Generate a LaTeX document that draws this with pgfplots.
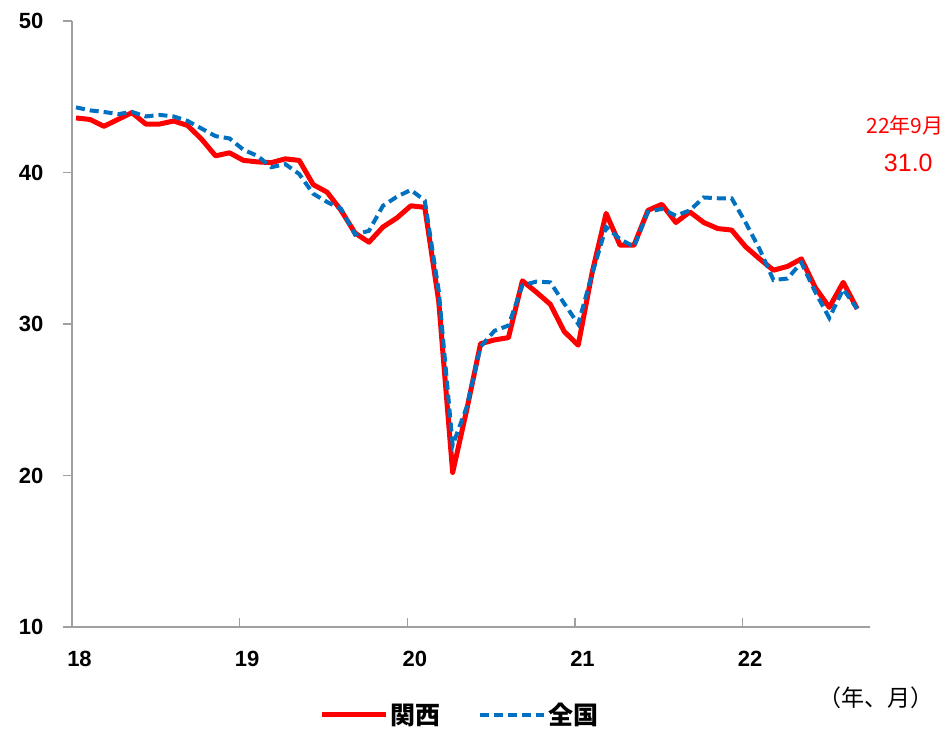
\documentclass[border=0pt]{standalone}
\usepackage{pgfplots}
\usepackage{pgfplotstable}
\pgfplotsset{compat=1.18}
\usepackage{fontspec}
\setmainfont{Liberation Sans}
\newfontfamily\cjk{Noto Sans CJK JP}

\definecolor{kansai}{RGB}{255,0,0}
\definecolor{zenkoku}{RGB}{0,112,192}
\definecolor{axgray}{RGB}{160,160,160}

% month index from Jan 2018 (0) to Sep 2022 (56)
\pgfplotstableread{
i  kansai zenkoku
0  43.6  44.3
1  43.5  44.1
2  43.05 44.0
3  43.5  43.85
4  43.95 44.0
5  43.2  43.7
6  43.2  43.8
7  43.4  43.7
8  43.1  43.4
9  42.2  42.9
10 41.1  42.4
11 41.3  42.25
12 40.8  41.5
13 40.7  41.1
14 40.65 40.35
15 40.9  40.55
16 40.8  39.9
17 39.2  38.6
18 38.7  38.05
19 37.5  37.6
20 36.0  35.9
21 35.4  36.15
22 36.4  37.8
23 37.0  38.4
24 37.8  38.85
25 37.7  38.15
26 31.5  32.2
27 20.2  22.0
28 24.3  24.5
29 28.7  28.5
30 28.95 29.55
31 29.1  29.9
32 32.85 32.55
33 32.1  32.8
34 31.3  32.75
35 29.5  31.35
36 28.6  30.0
37 33.4  33.3
38 37.3  36.4
39 35.2  35.6
40 35.2  35.1
41 37.5  37.4
42 37.9  37.6
43 36.7  37.15
44 37.4  37.5
45 36.7  38.35
46 36.3  38.3
47 36.2  38.3
48 35.1  36.7
49 34.3  34.95
50 33.55 32.9
51 33.8  33.0
52 34.3  34.05
53 32.4  32.1
54 31.1  30.4
55 32.75 32.3
56 31.0  31.0
}\datatable

\begin{document}
\begin{tikzpicture}
\useasboundingbox (0,0) rectangle (949pt,728pt);
\begin{axis}[
  at={(72pt,101pt)}, anchor=south west,
  scale only axis, width=798pt, height=606pt,
  xmin=-0.29, xmax=56.92, ymin=10, ymax=50,
  axis x line*=bottom, axis y line*=left,
  axis line style={axgray, line width=1.5pt, -},
  xtick={-0.29,11.73,23.75,35.77,47.79},
  xticklabels={18,19,20,21,22},
  ytick={10,20,30,40,50},
  tick align=inside,
  major tick length=9pt,
  tick style={axgray, line width=1.2pt},
  ytick style={xshift=-9pt},
  tick label style={font=\fontsize{22}{26}\selectfont\bfseries},
  /pgf/number format/assume math mode=true,
  xticklabel style={xshift=7.5pt, yshift=-20.7pt},
  yticklabel style={xshift=-25pt},
  clip=false,
  legend style={at={(axis description cs:0.486,-0.145)}, anchor=center,
    draw=none, fill=none, legend columns=2,
    font=\cjk\bfseries\fontsize{25}{29}\selectfont,
    /tikz/every even column/.append style={column sep=36pt}},
  legend image code/.code={\draw[#1] (0pt,0pt) -- (64pt,0pt);},
]
\addplot[kansai, line width=5pt, line join=round] table[x=i, y=kansai]{\datatable};
\addlegendentry{関西}
\addplot[zenkoku, line width=4pt, dash pattern=on 9pt off 5pt] table[x=i, y=zenkoku]{\datatable};
\addlegendentry{全国}
\node[text=kansai, font=\cjk\fontsize{21}{25}\selectfont] at (axis description cs:1.044,0.828) {22年9月};
\node[text=kansai, font=\fontsize{25}{30}\selectfont] at (axis description cs:1.048,0.766) {31.0};
\node[font=\cjk\fontsize{23}{27}\selectfont] at (axis description cs:1.007,-0.117) {（年、月）};
\end{axis}
\end{tikzpicture}
\end{document}
